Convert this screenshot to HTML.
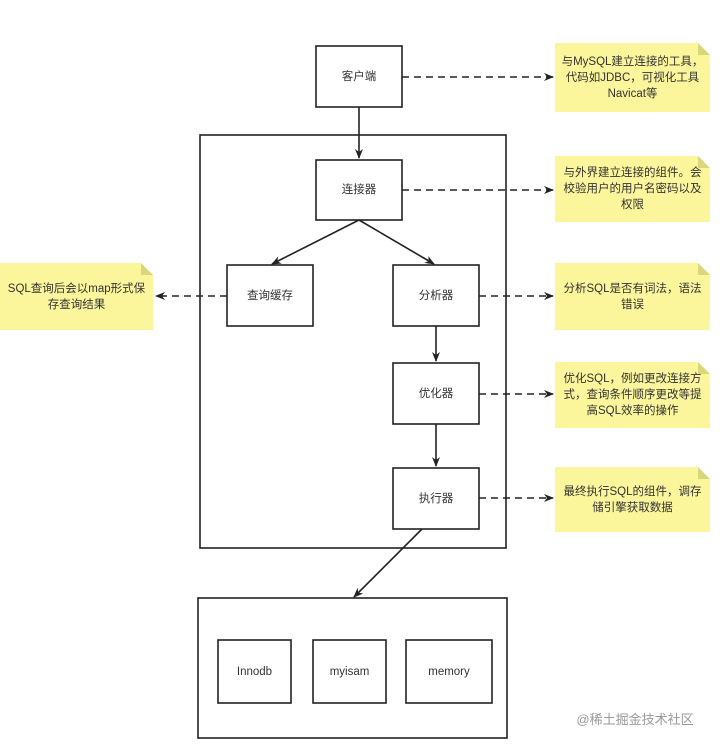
<!DOCTYPE html>
<html><head><meta charset="utf-8"><style>
body{margin:0;background:#fff;width:720px;height:751px;overflow:hidden;font-family:"Liberation Sans","Noto Sans CJK SC",sans-serif;}
.t{position:absolute;display:flex;align-items:center;justify-content:center;text-align:center;font-size:11.5px;color:#333;line-height:16px;}
</style></head><body>
<svg width="720" height="751" style="position:absolute;left:0;top:0">
<defs><marker id="a" markerWidth="10" markerHeight="10" refX="9" refY="5" orient="auto" markerUnits="userSpaceOnUse"><path d="M0,1 L10,5 L0,9 L3,5z" fill="#222"/></marker></defs>
<g fill="none" stroke="#222" stroke-width="1.6">
<rect x="200" y="135" width="306" height="413"/>
<rect x="198" y="598" width="309" height="140"/>
<rect x="316" y="46" width="86" height="61" fill="#fff"/>
<rect x="316" y="160" width="86" height="60" fill="#fff"/>
<rect x="227" y="265" width="86" height="61" fill="#fff"/>
<rect x="393" y="265" width="86" height="61"/>
<rect x="393" y="363" width="86" height="61"/>
<rect x="393" y="468" width="86" height="61"/>
<rect x="218" y="640" width="73" height="63"/>
<rect x="313" y="640" width="73" height="63"/>
<rect x="406" y="640" width="86" height="63"/>
<path d="M359,107 V158" marker-end="url(#a)"/>
<path d="M359,220 L272,264" marker-end="url(#a)"/>
<path d="M359,220 L434,264" marker-end="url(#a)"/>
<path d="M436,326 V361" marker-end="url(#a)"/>
<path d="M436,424 V466" marker-end="url(#a)"/>
<path d="M422,529 L354,597" marker-end="url(#a)"/>
<g stroke-dasharray="7,5">
<path d="M402,77 H553" marker-end="url(#a)"/>
<path d="M402,190 H553" marker-end="url(#a)"/>
<path d="M479,296 H553" marker-end="url(#a)"/>
<path d="M479,394 H553" marker-end="url(#a)"/>
<path d="M479,498 H553" marker-end="url(#a)"/>
<path d="M227,296 H156" marker-end="url(#a)"/>
</g></g>
<g fill="#fbf59c">
<path d="M555,43 H698 L710,55 V112 H555z"/>
<path d="M555,156 H698 L710,168 V222 H555z"/>
<path d="M555,263 H698 L710,275 V330 H555z"/>
<path d="M555,362 H698 L710,374 V428 H555z"/>
<path d="M555,467 H698 L710,479 V532 H555z"/>
<path d="M0,263 H141 L153,275 V330 H0z"/>
</g>
<g fill="#d9d77a">
<path d="M698,43 L710,55 H698z"/><path d="M698,156 L710,168 H698z"/><path d="M698,263 L710,275 H698z"/><path d="M698,362 L710,374 H698z"/><path d="M698,467 L710,479 H698z"/><path d="M141,263 L153,275 H141z"/>
</g>
</svg>
<div class="t" style="left:316px;top:46px;width:86px;height:61px">客户端</div>
<div class="t" style="left:316px;top:160px;width:86px;height:60px">连接器</div>
<div class="t" style="left:227px;top:265px;width:86px;height:61px">查询缓存</div>
<div class="t" style="left:393px;top:265px;width:86px;height:61px">分析器</div>
<div class="t" style="left:393px;top:363px;width:86px;height:61px">优化器</div>
<div class="t" style="left:393px;top:468px;width:86px;height:61px">执行器</div>
<div class="t" style="left:218px;top:640px;width:73px;height:63px">Innodb</div>
<div class="t" style="left:313px;top:640px;width:73px;height:63px">myisam</div>
<div class="t" style="left:406px;top:640px;width:86px;height:63px">memory</div>
<div class="t" style="left:560px;top:43px;width:145px;height:69px">与MySQL建立连接的工具，代码如JDBC，可视化工具Navicat等</div>
<div class="t" style="left:560px;top:156px;width:145px;height:66px">与外界建立连接的组件。会校验用户的用户名密码以及权限</div>
<div class="t" style="left:560px;top:263px;width:145px;height:67px">分析SQL是否有词法，语法错误</div>
<div class="t" style="left:560px;top:362px;width:145px;height:66px">优化SQL，例如更改连接方式，查询条件顺序更改等提高SQL效率的操作</div>
<div class="t" style="left:560px;top:467px;width:145px;height:65px">最终执行SQL的组件，调存储引擎获取数据</div>
<div class="t" style="left:3px;top:263px;width:147px;height:67px">SQL查询后会以map形式保存查询结果</div>
<div class="t" style="left:560px;top:710px;width:150px;height:20px;color:#999;font-size:13px">@稀土掘金技术社区</div>
</body></html>
